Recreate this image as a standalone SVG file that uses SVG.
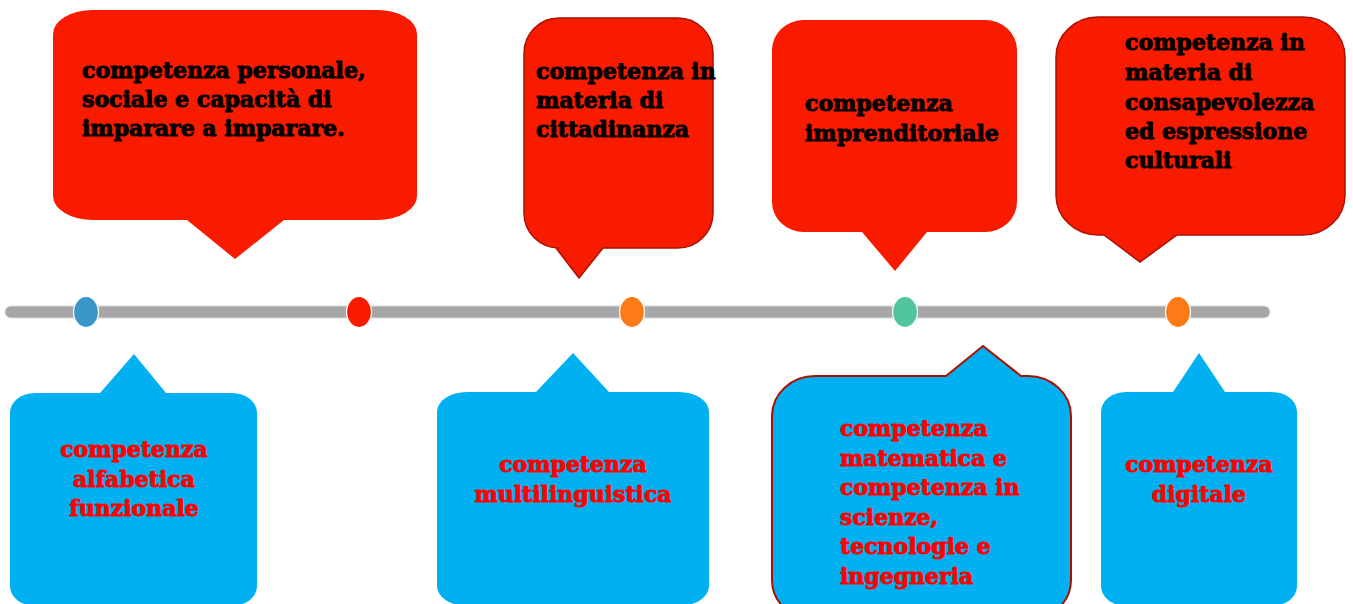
<svg xmlns="http://www.w3.org/2000/svg" width="1353" height="604" viewBox="0 0 1353 604">
<style>
.red{fill:#f81b00}
.redS{fill:#f81b00;stroke:#a81200;stroke-width:1.5}
.blue{fill:#00b0f0}
.blueS{fill:#00b0f0;stroke:#a81200;stroke-width:2}
text{font-family:"DejaVu Serif","Liberation Serif",serif;font-weight:bold;font-size:22px;stroke-width:0.9px;stroke-linejoin:round}
.tb{fill:#000;stroke:#000}
.tr{fill:#ff0000;stroke:#ff0000}
.c{text-anchor:middle}
.dot{stroke:#ffffff;stroke-width:1.2}
</style>
<rect x="0" y="0" width="1353" height="604" fill="#ffffff"/>
<g id="timeline">
<line x1="11" y1="312" x2="1264" y2="312" stroke="#dcdcdc" stroke-width="13" stroke-linecap="round"/>
<line x1="11" y1="312" x2="1264" y2="312" stroke="#a6a6a6" stroke-width="11" stroke-linecap="round"/>
<ellipse class="dot" cx="86" cy="312" rx="12.5" ry="15.5" fill="#3a96c8"/>
<ellipse class="dot" cx="359" cy="312" rx="12.5" ry="15.5" fill="#f81b00"/>
<ellipse class="dot" cx="632" cy="312" rx="12.5" ry="15.5" fill="#fd7a17"/>
<ellipse class="dot" cx="905" cy="312" rx="12.5" ry="15.5" fill="#52c5a0"/>
<ellipse class="dot" cx="1178" cy="312" rx="12.5" ry="15.5" fill="#fd7a17"/>
</g>
<g id="n1">
<path class="red" d="M93,10 H377 A40,24 0 0 1 417,34 V196 A40,24 0 0 1 377,220 H284 L235,259 L187,220 H93 A40,24 0 0 1 53,196 V34 A40,24 0 0 1 93,10 Z"/>
<text class="tb" x="82" y="78">competenza personale,</text>
<text class="tb" x="82" y="107">sociale e capacità di</text>
<text class="tb" x="82" y="136">imparare a imparare.</text>
</g>
<g id="n2">
<path class="redS" d="M559,18 H678 A35,35 0 0 1 713,53 V213 A35,35 0 0 1 678,248 H603 L579,278 L556,248 H559 A35,35 0 0 1 524,213 V53 A35,35 0 0 1 559,18 Z"/>
<text class="tb" x="536" y="79">competenza in</text>
<text class="tb" x="536" y="108">materia di</text>
<text class="tb" x="536" y="137">cittadinanza</text>
</g>
<g id="n3">
<path class="red" d="M804,20 H985 A32,30 0 0 1 1017,50 V202 A32,30 0 0 1 985,232 H927 L895,271 L862,232 H804 A32,30 0 0 1 772,202 V50 A32,30 0 0 1 804,20 Z"/>
<text class="tb" x="805" y="111">competenza</text>
<text class="tb" x="805" y="141">imprenditoriale</text>
</g>
<g id="n4">
<path class="redS" d="M1098,17 H1303 A42,40 0 0 1 1345,57 V195 A42,40 0 0 1 1303,235 H1177 L1140,262 L1104,235 H1098 A42,40 0 0 1 1056,195 V57 A42,40 0 0 1 1098,17 Z"/>
<text class="tb" x="1125" y="50">competenza in</text>
<text class="tb" x="1125" y="80">materia di</text>
<text class="tb" x="1125" y="110">consapevolezza</text>
<text class="tb" x="1125" y="139">ed espressione</text>
<text class="tb" x="1125" y="168">culturali<tspan fill="#b01010" stroke="none" font-size="9">.</tspan></text>
</g>
<g id="n5">
<path class="blue" d="M35,393 H100 L134,354 L166,393 H232 A25,20 0 0 1 257,413 V586 A25,20 0 0 1 232,606 H35 A25,20 0 0 1 10,586 V413 A25,20 0 0 1 35,393 Z"/>
<text class="tr c" x="134" y="457">competenza</text>
<text class="tr c" x="134" y="487">alfabetica</text>
<text class="tr c" x="134" y="516">funzionale</text>
</g>
<g id="n6">
<path class="blue" d="M467,392 H536 L573,353 L609,392 H679 A30,20 0 0 1 709,412 V586 A30,20 0 0 1 679,606 H467 A30,20 0 0 1 437,586 V412 A30,20 0 0 1 467,392 Z"/>
<text class="tr c" x="573" y="472">competenza</text>
<text class="tr c" x="573" y="502">multilinguistica</text>
</g>
<g id="n7">
<path class="blueS" d="M815,376 H946 L983,346 L1021,376 H1028 A43,40 0 0 1 1071,416 V580 A43,40 0 0 1 1028,620 H815 A43,40 0 0 1 772,580 V416 A43,40 0 0 1 815,376 Z"/>
<text class="tr" x="840" y="436">competenza</text>
<text class="tr" x="840" y="466">matematica e</text>
<text class="tr" x="840" y="495">competenza in</text>
<text class="tr" x="840" y="525">scienze,</text>
<text class="tr" x="840" y="554">tecnologie e</text>
<text class="tr" x="840" y="584">ingegneria</text>
</g>
<g id="n8">
<path class="blue" d="M1126,392 H1173 L1199,353 L1225,392 H1272 A25,20 0 0 1 1297,412 V586 A25,20 0 0 1 1272,606 H1126 A25,20 0 0 1 1101,586 V412 A25,20 0 0 1 1126,392 Z"/>
<text class="tr c" x="1199" y="472">competenza</text>
<text class="tr c" x="1199" y="502">digitale</text>
</g>
</svg>
